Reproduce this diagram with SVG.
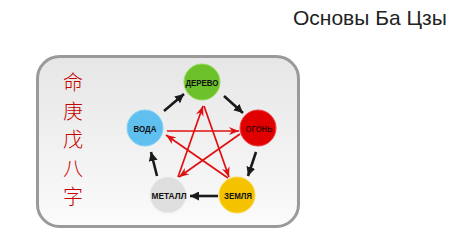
<svg xmlns="http://www.w3.org/2000/svg" width="465" height="232" viewBox="0 0 465 232">
  <defs>
    <linearGradient id="boxg" x1="0" y1="0" x2="0" y2="1">
      <stop offset="0" stop-color="#e6e6e6"/>
      <stop offset="1" stop-color="#fbfbfb"/>
    </linearGradient>
    <marker id="ab" viewBox="0 0 10 10" refX="10" refY="5" markerWidth="9" markerHeight="9" markerUnits="userSpaceOnUse" orient="auto">
      <path d="M0,0 L10,5 L0,10 z" fill="#1a1a1a"/>
    </marker>
    <marker id="ar" viewBox="0 0 10 8" refX="10" refY="4" markerWidth="10" markerHeight="8" markerUnits="userSpaceOnUse" orient="auto">
      <path d="M0,0 L10,4 L0,8 L3,4 z" fill="#e01010"/>
    </marker>
    <style>
      .title { font-family: "Liberation Sans", Arial, sans-serif; font-size: 21px; fill: #222; }
      .cjk { font-family: "Noto Sans CJK SC", "Noto Sans CJK TC", sans-serif; font-size: 20px; fill: #c40000; font-weight: 300; text-anchor: middle; }
      .lbl { font-family: "Liberation Sans", Arial, sans-serif; font-size: 9px; font-weight: bold; fill: #111; text-anchor: middle; }
      .blk { stroke: #1a1a1a; stroke-width: 2.6; fill: none; marker-end: url(#ab); }
      .red { stroke: #e01010; stroke-width: 1.7; fill: none; marker-end: url(#ar); }
    </style>
  </defs>

  <text class="title" x="293" y="25">Основы Ба Цзы</text>

  <g id="panel">
    <rect x="37.5" y="56.5" width="261" height="170" rx="22" ry="22" fill="url(#boxg)" stroke="#9a9a9a" stroke-width="3"/>
  </g>

  <g id="chars">
    <text class="cjk" x="73" y="90">命</text>
    <text class="cjk" x="73" y="118.5">庚</text>
    <text class="cjk" x="73" y="147">戊</text>
    <text class="cjk" x="73" y="175.5">八</text>
    <text class="cjk" x="73" y="204">字</text>
  </g>

  <g id="connectors">
    <line class="blk" x1="164" y1="111" x2="184" y2="94"/>
    <line class="blk" x1="224" y1="96" x2="243" y2="113"/>
    <line class="blk" x1="256" y1="152" x2="248" y2="176"/>
    <line class="blk" x1="218" y1="196" x2="190" y2="196"/>
    <line class="blk" x1="157" y1="176" x2="151" y2="152"/>

    <line class="red" x1="167" y1="131" x2="239" y2="131"/>
    <line class="red" x1="240" y1="134" x2="179" y2="177"/>
    <line class="red" x1="178" y1="177" x2="203" y2="106"/>
    <line class="red" x1="204" y1="106" x2="229" y2="177"/>
    <line class="red" x1="228" y1="178" x2="166" y2="135"/>
  </g>

  <g id="derevo">
    <circle cx="202" cy="82" r="18" fill="#6cc12a" stroke="#93dc55" stroke-width="1"/>
    <text class="lbl" x="202" y="85.5" textLength="33" lengthAdjust="spacingAndGlyphs">ДЕРЕВО</text>
  </g>
  <g id="ogon">
    <circle cx="258" cy="128" r="18" fill="#e00000" stroke="#f04040" stroke-width="1"/>
    <text class="lbl" x="259" y="131.5" textLength="27" lengthAdjust="spacingAndGlyphs" style="fill:#4a0000">ОГОНЬ</text>
  </g>
  <g id="zemlya">
    <circle cx="237" cy="195" r="18" fill="#f5c200" stroke="#fbd84a" stroke-width="1"/>
    <text class="lbl" x="238" y="198.5" textLength="28" lengthAdjust="spacingAndGlyphs">ЗЕМЛЯ</text>
  </g>
  <g id="metall">
    <circle cx="168" cy="195" r="18" fill="#dedede" stroke="#eeeeee" stroke-width="1"/>
    <text class="lbl" x="169" y="198.5" textLength="35" lengthAdjust="spacingAndGlyphs">МЕТАЛЛ</text>
  </g>
  <g id="voda">
    <circle cx="145" cy="128" r="18" fill="#5fbfee" stroke="#8ad2f4" stroke-width="1"/>
    <text class="lbl" x="145" y="131.5" textLength="23" lengthAdjust="spacingAndGlyphs">ВОДА</text>
  </g>
</svg>
